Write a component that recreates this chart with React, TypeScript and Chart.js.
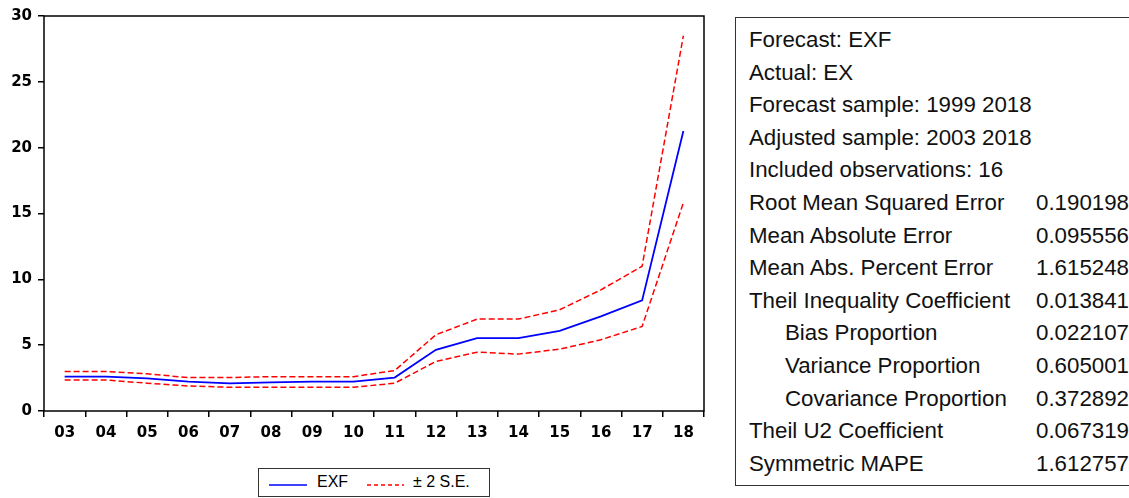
import React, { useEffect, useRef } from "react";
import { Chart, registerables } from "chart.js";

Chart.register(...registerables);

const categories = ["03", "04", "05", "06", "07", "08", "09", "10", "11", "12", "13", "14", "15", "16", "17", "18"];
const exf = [2.61, 2.61, 2.48, 2.23, 2.1, 2.18, 2.23, 2.23, 2.54, 4.65, 5.53, 5.53, 6.09, 7.18, 8.4, 21.27];
const upperSE = [3.0, 3.0, 2.82, 2.54, 2.54, 2.61, 2.61, 2.61, 3.07, 5.79, 6.98, 6.98, 7.69, 9.2, 11.0, 28.5];
const lowerSE = [2.36, 2.36, 2.11, 1.9, 1.8, 1.8, 1.8, 1.8, 2.11, 3.76, 4.47, 4.32, 4.7, 5.41, 6.42, 15.82];

const statLabels = [
  "Forecast: EXF",
  "Actual: EX",
  "Forecast sample: 1999 2018",
  "Adjusted sample: 2003 2018",
  "Included observations: 16",
  "Root Mean Squared Error",
  "Mean Absolute Error",
  "Mean Abs. Percent Error",
  "Theil Inequality Coefficient",
  "Bias Proportion",
  "Variance Proportion",
  "Covariance Proportion",
  "Theil U2 Coefficient",
  "Symmetric MAPE",
];
const statValues = ["", "", "", "", "", "0.190198", "0.095556", "1.615248", "0.013841", "0.022107", "0.605001", "0.372892", "0.067319", "1.612757"];
const statIndented = [false, false, false, false, false, false, false, false, false, true, true, true, false, false];

const framePlugin = {
  id: "frame",
  afterDraw(chart: any) {
    const { ctx, chartArea } = chart;
    ctx.save();
    ctx.strokeStyle = "#000";
    ctx.lineWidth = 1.5;
    ctx.strokeRect(chartArea.left, chartArea.top, chartArea.right - chartArea.left, chartArea.bottom - chartArea.top);
    ctx.restore();
  },
};

export default function App() {
  const ref = useRef<HTMLCanvasElement>(null);
  useEffect(() => {
    if (!ref.current) return;
    const tickFont = { family: "DejaVu Sans", size: 15, weight: "bold" as const };
    const chart = new Chart(ref.current, {
      type: "line",
      data: {
        labels: categories,
        datasets: [
          { label: "EXF", data: exf, borderColor: "#0000ff", borderWidth: 1.8, pointRadius: 0, tension: 0 },
          { label: "+2 S.E.", data: upperSE, borderColor: "#ff0000", borderWidth: 1.5, borderDash: [6, 3], pointRadius: 0, tension: 0 },
          { label: "-2 S.E.", data: lowerSE, borderColor: "#ff0000", borderWidth: 1.5, borderDash: [6, 3], pointRadius: 0, tension: 0 },
        ],
      },
      options: {
        animation: false,
        responsive: false,
        maintainAspectRatio: false,
        layout: { padding: { top: 16, right: 16, left: 0, bottom: 0 } },
        plugins: { legend: { display: false }, tooltip: { enabled: false } },
        scales: {
          x: {
            type: "category",
            offset: true,
            grid: { display: true, offset: true, drawOnChartArea: false, drawTicks: true, tickLength: 6, color: "#000", lineWidth: 1.5 },
            border: { display: false },
            ticks: { font: tickFont, color: "#000", padding: 7, maxRotation: 0, autoSkip: false },
            afterFit: (s: any) => { s.height = 49; },
          },
          y: {
            min: 0,
            max: 30,
            grid: { display: true, drawOnChartArea: false, drawTicks: true, tickLength: 6, color: "#000", lineWidth: 1.5 },
            border: { display: false },
            ticks: { stepSize: 5, font: tickFont, color: "#000", padding: 6 },
            afterFit: (s: any) => { s.width = 44; },
          },
        },
      },
      plugins: [framePlugin],
    });
    return () => chart.destroy();
  }, []);

  const rowH = 32.6;
  const fs = 22.3;
  return (
    <div style={{ position: "fixed", left: 0, top: 0, width: 1129, height: 498, overflow: "hidden", background: "#fff", fontFamily: "'Liberation Sans', Arial, sans-serif" }}>
      <canvas ref={ref} width={720} height={460} style={{ position: "absolute", left: 0, top: 0, width: 720, height: 460 }} />
      <div style={{ position: "absolute", left: 258, top: 468, width: 230, height: 27, border: "1.5px solid #333", background: "#fff" }}>
        <svg width="40" height="4" style={{ position: "absolute", left: 10, top: 14 }}>
          <line x1="0" y1="2" x2="38" y2="2" stroke="#0000ff" strokeWidth="1.6" />
        </svg>
        <span style={{ position: "absolute", left: 58, top: 4, fontSize: 16, color: "#000" }}>EXF</span>
        <svg width="40" height="4" style={{ position: "absolute", left: 108, top: 14 }}>
          <line x1="0" y1="2" x2="37" y2="2" stroke="#ff0000" strokeWidth="1.5" strokeDasharray="4,3" />
        </svg>
        <span style={{ position: "absolute", left: 154, top: 4, fontSize: 16, color: "#000" }}>± 2 S.E.</span>
      </div>
      <div style={{ position: "absolute", left: 735, top: 17, width: 420, height: 467, border: "1.5px solid #333", background: "#fff" }}>
        {statLabels.map((lab, i) => (
          <React.Fragment key={i}>
            <div style={{ position: "absolute", left: statIndented[i] ? 49 : 13, top: 6 + i * rowH, height: rowH, lineHeight: rowH + "px", fontSize: fs, color: "#111", whiteSpace: "nowrap" }}>{lab}</div>
            {statValues[i] ? (
              <div style={{ position: "absolute", left: 300, top: 6 + i * rowH, height: rowH, lineHeight: rowH + "px", fontSize: fs, color: "#111", whiteSpace: "nowrap" }}>{statValues[i]}</div>
            ) : null}
          </React.Fragment>
        ))}
      </div>
    </div>
  );
}
